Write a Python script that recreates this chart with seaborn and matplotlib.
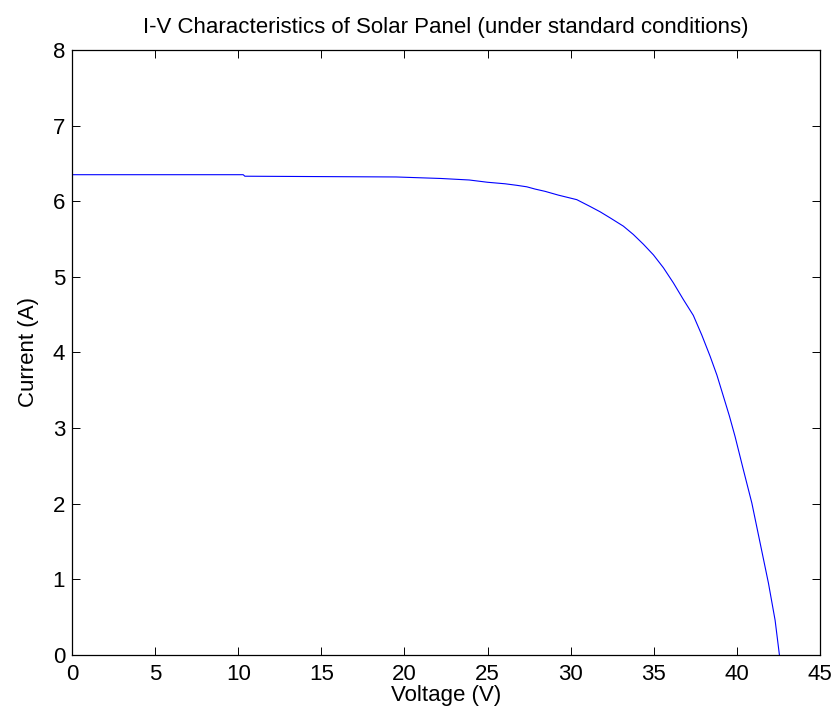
import matplotlib
matplotlib.use("Agg")
import matplotlib.pyplot as plt
import seaborn as sns
import pandas as pd

voltage = [0, 10.3, 10.4, 19.5, 22.2, 23.9, 25.0, 26.05, 26.75, 27.36, 27.86, 28.46,
           29.26, 30.37, 31.17, 31.77, 32.37, 33.17, 33.77, 34.38, 34.98, 35.58, 36.18,
           36.78, 37.38, 37.89, 38.39, 38.80, 39.19, 39.55, 39.89, 40.39, 40.90,
           41.40, 41.90, 42.30, 42.56]
current = [6.35, 6.35, 6.33, 6.32, 6.30, 6.28, 6.25, 6.23, 6.21, 6.19, 6.16, 6.13,
           6.08, 6.02, 5.93, 5.86, 5.78, 5.67, 5.56, 5.43, 5.29, 5.12, 4.92,
           4.70, 4.49, 4.23, 3.95, 3.70, 3.42, 3.16, 2.89, 2.45, 2.01,
           1.48, 0.95, 0.46, 0.0]

xticks = [0, 5, 10, 15, 20, 25, 30, 35, 40, 45]
yticks = [0, 1, 2, 3, 4, 5, 6, 7, 8]

sns.set_theme(style="white")
plt.rcParams['font.family'] = ['Liberation Sans', 'DejaVu Sans']
plt.rcParams['text.color'] = 'black'
plt.rcParams['axes.labelcolor'] = 'black'

df = pd.DataFrame({"Voltage (V)": voltage, "Current (A)": current})

fig = plt.figure(figsize=(8.38, 7.23), dpi=100)
ax = fig.add_axes([0.0859, 0.094, 0.8926, 0.837])
sns.lineplot(data=df, x="Voltage (V)", y="Current (A)", color=(0, 0, 1),
             linewidth=0.8, ax=ax, sort=False)

ax.set_xlim(0, 45)
ax.set_ylim(0, 8)
ax.set_xticks(xticks)
ax.set_yticks(yticks)
fs = 16
ax.set_xticklabels([str(t) for t in xticks], fontsize=fs)
ax.set_yticklabels([str(t) for t in yticks], fontsize=fs)
ax.set_xlabel("Voltage (V)", fontsize=fs, labelpad=0, color="black")
ax.set_ylabel("Current (A)", fontsize=fs, labelpad=10, color="black")
ax.set_title("I-V Characteristics of Solar Panel (under standard conditions)",
             fontsize=fs, pad=12, color="black")
ax.tick_params(direction="in", length=6, width=0.7, top=True, right=True,
               bottom=True, left=True, colors="black")
ax.tick_params(axis="x", pad=6.5)
ax.tick_params(axis="y", pad=5)
for s in ax.spines.values():
    s.set_visible(True)
    s.set_color("black")
    s.set_linewidth(0.9)

fig.savefig("out.png", dpi=100)
